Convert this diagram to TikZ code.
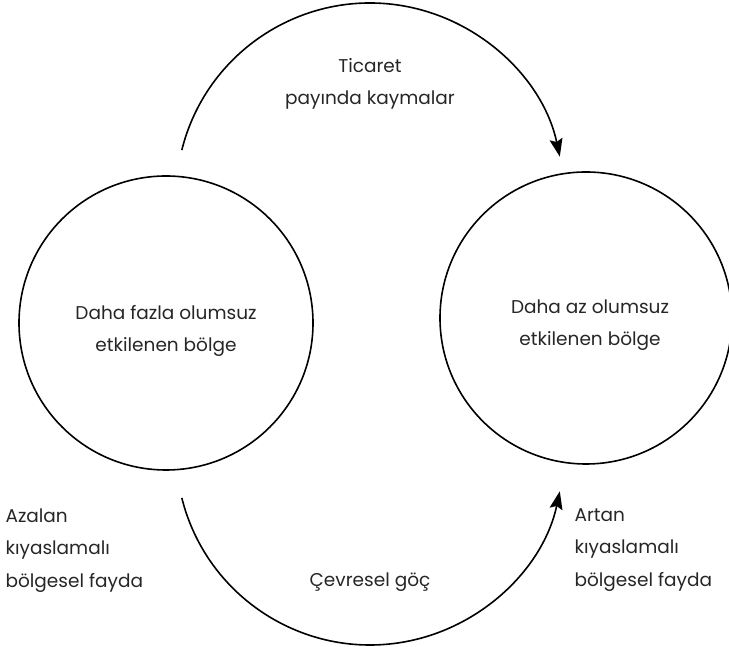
\documentclass[tikz,border=0pt]{standalone}
\usepackage{fontspec}
\setmainfont{Poppins}
\usetikzlibrary{arrows.meta}

\begin{document}
\begin{tikzpicture}[
  x=1pt, y=1pt,
  every node/.style={text=black!85, font=\fontsize{18.5}{32.5}\selectfont},
  regionbox/.style={draw, circle, line width=1.6pt, align=center, inner sep=0pt},
  labelbox/.style={align=center},
  sidebox/.style={align=left, anchor=north west},
  arrow/.style={-{Stealth[length=18pt, width=13pt, inset=3pt]}, line width=1.6pt}
]
\useasboundingbox (0,0) rectangle (729,647);

\node[regionbox, minimum size=294] (more) at (166,324) {};
\node[labelbox] (moreText) at (166,316) {Daha fazla olumsuz\\etkilenen bölge};
\node[regionbox, minimum size=292] (less) at (586,329) {};
\node[labelbox] (lessText) at (590,322) {Daha az olumsuz\\etkilenen bölge};

\coordinate (tradeStart) at (181.8,496.9);
\coordinate (migStart) at (181.8,149.1);

\draw[arrow] (tradeStart) arc[start angle=166, end angle=12, radius=194];
\draw[arrow] (migStart) arc[start angle=194, end angle=348, radius=194];

\node[labelbox] (trade) at (370,563) {Ticaret\\payında kaymalar};
\node[labelbox] (migration) at (370,65) {Çevresel göç};

\node[sidebox] (lessBenefit) at (2,142) {Azalan\\kıyaslamalı\\bölgesel fayda};
\node[sidebox] (moreBenefit) at (571,142) {Artan\\kıyaslamalı\\bölgesel fayda};
\end{tikzpicture}
\end{document}
